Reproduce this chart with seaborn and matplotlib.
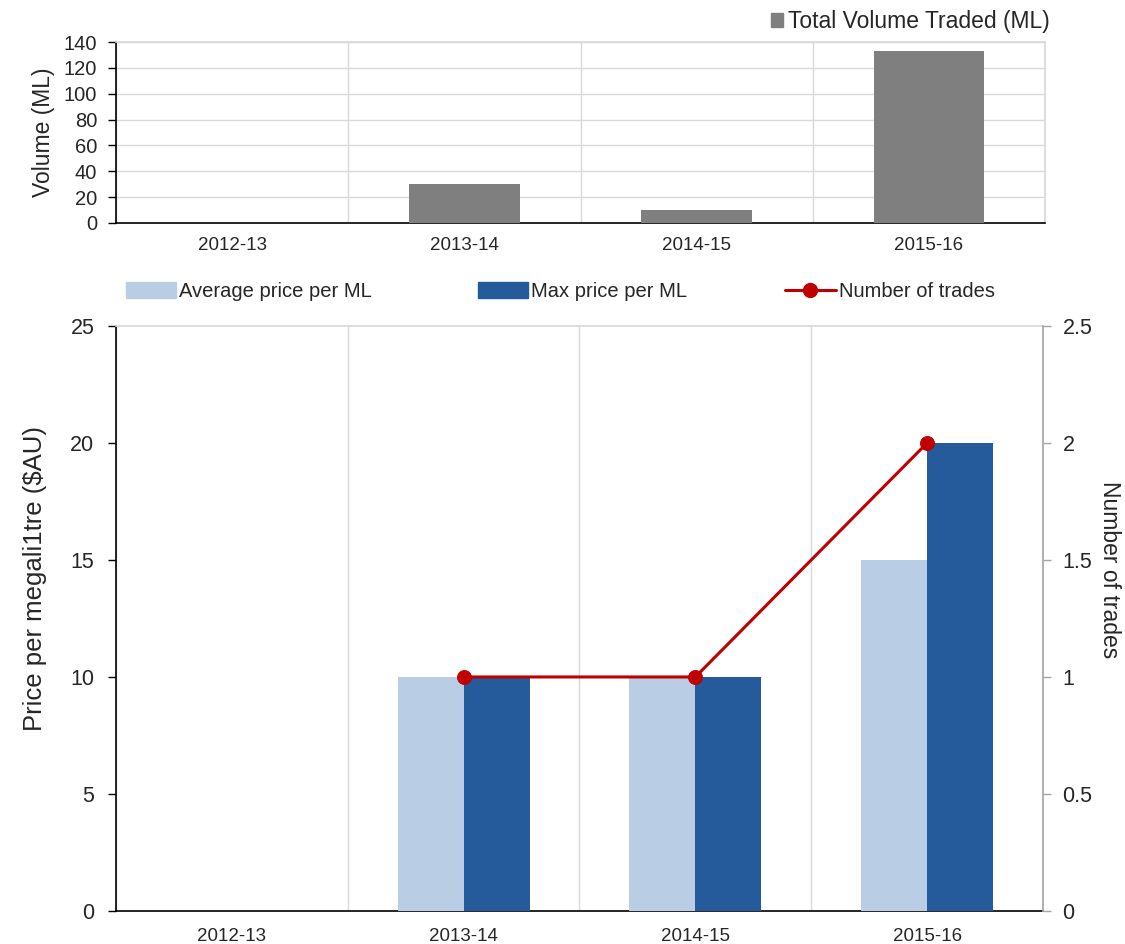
import numpy as np
import pandas as pd
import matplotlib
matplotlib.use("Agg")
import matplotlib.pyplot as plt
from matplotlib.patches import Patch
from matplotlib.lines import Line2D
import seaborn as sns

# ---- data ----
years = ["2012-13", "2013-14", "2014-15", "2015-16"]
volume = [0, 30, 10, 133]
avg_price = [0, 10, 10, 15]
max_price = [0, 10, 10, 20]
trades = [np.nan, 1, 1, 2]

GRAY = "#7F7F7F"
LIGHT = "#B9CDE5"
DARK = "#255B9A"
RED = "#C00000"
GRID = "#D9D9D9"

sns.set_theme(style="white")
plt.rcParams["font.family"] = ["Liberation Sans", "DejaVu Sans"]

fig = plt.figure(figsize=(11.25, 9.44), dpi=100)
ax_top = fig.add_axes([0.1031, 0.7638, 0.8258, 0.1917])
ax_bot = fig.add_axes([0.1031, 0.0350, 0.8240, 0.6197])

# ---- top chart ----
df_top = pd.DataFrame({"Year": years, "Volume": volume})
sns.barplot(data=df_top, x="Year", y="Volume", color=GRAY, width=0.475,
            saturation=1, linewidth=0, ax=ax_top, zorder=3)
ax_top.set_xlim(-0.5, len(years) - 0.5)
ax_top.set_ylim(0, 140)
ax_top.set_yticks(np.arange(0, 141, 20))
ax_top.set_xticks(np.arange(-0.5, len(years), 1), minor=True)
ax_top.tick_params(axis="x", which="major", length=0, labelsize=13.5, pad=10)
ax_top.tick_params(axis="x", which="minor", length=6, width=1, color="black", direction="out")
ax_top.tick_params(axis="y", length=6, width=1, color="black", direction="out", labelsize=14.5, pad=7.5, left=True)
ax_top.grid(axis="y", which="major", color=GRID, lw=1, zorder=0)
ax_top.grid(axis="x", which="minor", color=GRID, lw=1, zorder=0)
ax_top.set_axisbelow(True)
for s in ["top", "right"]:
    ax_top.spines[s].set_color(GRID)
for s in ["left", "bottom"]:
    ax_top.spines[s].set_color("black")
    ax_top.spines[s].set_linewidth(1.2)
ax_top.set_xlabel("")
ax_top.set_ylabel("Volume (ML)", fontsize=16.5, labelpad=6)
ax_top.legend(handles=[Patch(color=GRAY, label="Total Volume Traded (ML)")],
              loc="lower right", bbox_to_anchor=(1.015, 1.0), frameon=False,
              fontsize=16.5, handlelength=0.55, handleheight=0.55, handletextpad=0.2,
              borderaxespad=0)

# ---- bottom chart ----
df_bot = pd.DataFrame({
    "Year": years * 2,
    "Price": avg_price + max_price,
    "Series": ["Average price per ML"] * len(years) + ["Max price per ML"] * len(years),
})
sns.barplot(data=df_bot, x="Year", y="Price", hue="Series",
            palette=[LIGHT, DARK], width=0.57, saturation=1, linewidth=0,
            ax=ax_bot, zorder=3)
if ax_bot.get_legend() is not None:
    ax_bot.get_legend().remove()
ax_bot.set_xlim(-0.5, len(years) - 0.5)
ax_bot.set_ylim(0, 25)
ax_bot.set_yticks(np.arange(0, 26, 5))
ax_bot.set_xticks(np.arange(-0.5, len(years), 1), minor=True)
ax_bot.tick_params(axis="x", which="major", length=0, labelsize=13.5, pad=12)
ax_bot.tick_params(axis="x", which="minor", length=6, width=1, color="black", direction="out")
ax_bot.tick_params(axis="y", length=6, width=1, color="black", direction="out", labelsize=15.5, pad=9.5, left=True)
ax_bot.grid(axis="x", which="minor", color=GRID, lw=1, zorder=0)
ax_bot.set_axisbelow(True)
ax_bot.spines["top"].set_color(GRID)
ax_bot.spines["right"].set_visible(False)
for s in ["left", "bottom"]:
    ax_bot.spines[s].set_color("black")
    ax_bot.spines[s].set_linewidth(1.2)
ax_bot.set_xlabel("")
ax_bot.set_ylabel("Price per megali1tre ($AU)", fontsize=18.5)
ax_bot.yaxis.set_label_coords(-0.074, 0.569)

ax2 = ax_bot.twinx()
pos = np.arange(len(years))
sns.lineplot(x=pos, y=trades, color=RED, lw=2.2, marker="o", markersize=10,
             markeredgecolor=RED, ax=ax2, zorder=5)
ax2.set_ylim(0, 2.5)
ax2.set_yticks(np.arange(0, 2.51, 0.5))
ax2.set_yticklabels(["0", "0.5", "1", "1.5", "2", "2.5"])
ax2.tick_params(axis="y", length=6, width=1, color="#A6A6A6", direction="out", labelsize=15.5, pad=8, right=True)
for s in ["left", "top", "bottom"]:
    ax2.spines[s].set_visible(False)
ax2.spines["right"].set_color("#A6A6A6")
ax2.set_ylabel("Number of trades", fontsize=16.5, rotation=-90, va="center")
ax2.yaxis.set_label_coords(1.072, 0.583)
ax2.grid(False)

legend_items = [
    (Patch(color=LIGHT, label="Average price per ML"), 0.112),
    (Patch(color=DARK, label="Max price per ML"), 0.4245),
    (Line2D([0], [0], color=RED, lw=2.2, marker="o", markersize=10, label="Number of trades"), 0.698),
]
for h, xpos in legend_items:
    fig.legend(handles=[h], loc="center left", bbox_to_anchor=(xpos, 0.691),
               frameon=False, fontsize=14.5, handlelength=2.5, handleheight=0.8,
               handletextpad=0.15, borderaxespad=0, borderpad=0)

fig.savefig("out.png", dpi=100)
